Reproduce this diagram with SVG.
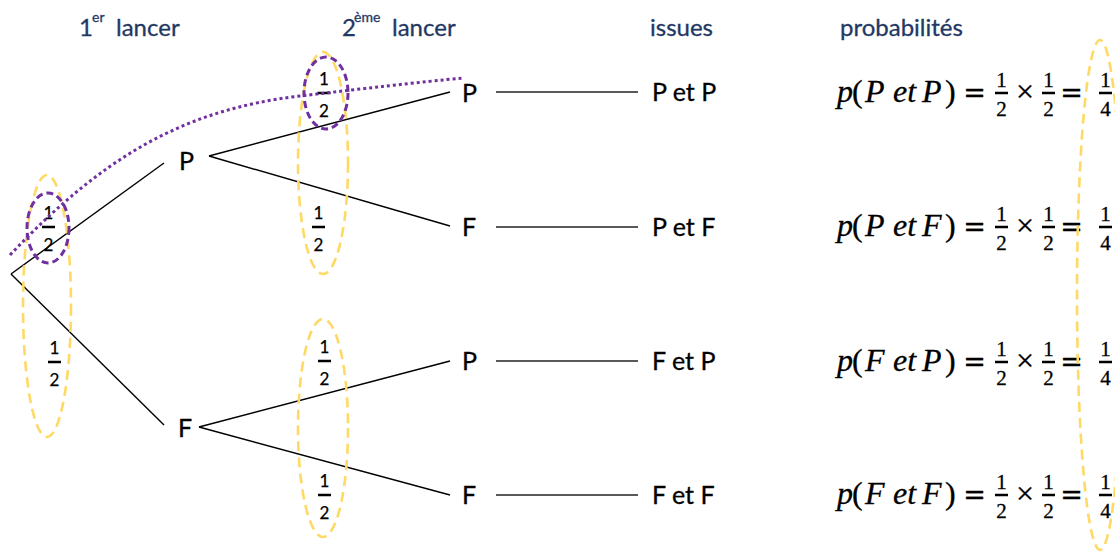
<svg xmlns="http://www.w3.org/2000/svg" width="1115" height="554" viewBox="0 0 1115 554">
<style>
.hd{font-family:Lato,"Liberation Sans",sans-serif;fill:#1F3864;stroke:#1F3864;stroke-width:0.3;font-size:24px}
.sup{font-size:14px}
.lb{font-family:Lato,"Liberation Sans",sans-serif;fill:#000;stroke:#000;stroke-width:0.3;font-size:25px}
.fd{font-family:Lato,"Liberation Sans",sans-serif;fill:#000;stroke:#000;stroke-width:0.25;font-size:17px;text-anchor:middle}
.m{font-family:"Liberation Serif",serif;fill:#000;stroke:#000;stroke-width:0.3;font-size:32px}
.mi{font-style:italic}
.op{font-family:"DejaVu Serif",serif;font-size:27px;text-anchor:middle}
.md{font-family:"Liberation Serif",serif;fill:#000;stroke:#000;stroke-width:0.3;font-size:21px;text-anchor:middle}
.ln{stroke:#000;stroke-width:1.4;fill:none}
.il{stroke:#222;stroke-width:1.4;fill:none}
.yel{fill:none;stroke:#FFD966;stroke-width:2.6;stroke-dasharray:10 6}
.pur{fill:none;stroke:#7030A0;stroke-width:3;stroke-dasharray:7 4}
.dot{fill:none;stroke:#7030A0;stroke-width:3;stroke-dasharray:3 3}
</style>
<defs>
<rect id="bar" x="-6.5" y="-1.25" width="13" height="2.5" fill="#000"/>
</defs>

<g id="headers">
<text class="hd" x="79" y="36">1</text><text class="hd sup" x="92" y="22">er</text><text class="hd" x="116" y="36">lancer</text>
<text class="hd" x="342" y="36">2</text><text class="hd sup" x="354" y="22">ème</text><text class="hd" x="392" y="36">lancer</text>
<text class="hd" x="650" y="36">issues</text>
<text class="hd" x="840" y="36">probabilités</text>
</g>

<g id="connectors">
<line class="ln" x1="11" y1="274" x2="164" y2="163"/>
<line class="ln" x1="11" y1="274" x2="164" y2="425"/>
<line class="ln" x1="209" y1="156" x2="450" y2="92"/>
<line class="ln" x1="209" y1="156" x2="450" y2="226"/>
<line class="ln" x1="199" y1="427" x2="450" y2="361"/>
<line class="ln" x1="199" y1="427" x2="450" y2="495"/>
<line class="il" x1="496" y1="92" x2="638" y2="92"/>
<line class="il" x1="496" y1="227" x2="638" y2="227"/>
<line class="il" x1="496" y1="361" x2="638" y2="361"/>
<line class="il" x1="496" y1="495" x2="638" y2="495"/>
</g>

<g id="branch-probabilities">
<text class="fd" x="48.5" y="219">1</text><use href="#bar" x="48.5" y="227"/><text class="fd" x="48.5" y="251">2</text>
<text class="fd" x="54.5" y="354">1</text><use href="#bar" x="54.5" y="362"/><text class="fd" x="54.5" y="386">2</text>
<text class="fd" x="324" y="85">1</text><use href="#bar" x="324" y="93"/><text class="fd" x="324" y="117">2</text>
<text class="fd" x="318.5" y="219">1</text><use href="#bar" x="318.5" y="227"/><text class="fd" x="318.5" y="251">2</text>
<text class="fd" x="324.5" y="353">1</text><use href="#bar" x="324.5" y="361"/><text class="fd" x="324.5" y="385">2</text>
<text class="fd" x="324.5" y="487">1</text><use href="#bar" x="324.5" y="495"/><text class="fd" x="324.5" y="519">2</text>
</g>

<g id="node-P1"><text class="lb" x="179" y="170">P</text></g>
<g id="node-F1"><text class="lb" x="178" y="437">F</text></g>
<g id="node-PP"><text class="lb" x="462" y="102">P</text></g>
<g id="node-PF"><text class="lb" x="462" y="236">F</text></g>
<g id="node-FP"><text class="lb" x="462" y="370">P</text></g>
<g id="node-FF"><text class="lb" x="462" y="504">F</text></g>

<g id="issues">
<text class="lb" x="652" y="101">P et P</text>
<text class="lb" x="652" y="236">P et F</text>
<text class="lb" x="652" y="370">F et P</text>
<text class="lb" x="652" y="504">F et F</text>
</g>

<g id="prob-PP">
<text class="m" y="102"><tspan class="mi" x="837">p</tspan><tspan x="852">(</tspan><tspan class="mi" x="865">P</tspan><tspan class="mi" x="893">et</tspan><tspan class="mi" x="922">P</tspan><tspan x="945">)</tspan></text>
<text class="m op" x="974.5" y="102">=</text><text class="m" x="1025" y="102" text-anchor="middle">×</text><text class="m op" x="1071.5" y="102">=</text>
<text class="md" x="1001.5" y="87">1</text><use href="#bar" x="1001.5" y="93"/><text class="md" x="1001.5" y="116">2</text>
<text class="md" x="1048.5" y="87">1</text><use href="#bar" x="1048.5" y="93"/><text class="md" x="1048.5" y="116">2</text>
<text class="md" x="1105.5" y="87">1</text><use href="#bar" x="1105.5" y="93"/><text class="md" x="1105.5" y="116">4</text>
</g>
<g id="prob-PF">
<text class="m" y="236"><tspan class="mi" x="837">p</tspan><tspan x="852">(</tspan><tspan class="mi" x="865">P</tspan><tspan class="mi" x="893">et</tspan><tspan class="mi" x="922">F</tspan><tspan x="945">)</tspan></text>
<text class="m op" x="974.5" y="236">=</text><text class="m" x="1025" y="236" text-anchor="middle">×</text><text class="m op" x="1071.5" y="236">=</text>
<text class="md" x="1001.5" y="221">1</text><use href="#bar" x="1001.5" y="227"/><text class="md" x="1001.5" y="250">2</text>
<text class="md" x="1048.5" y="221">1</text><use href="#bar" x="1048.5" y="227"/><text class="md" x="1048.5" y="250">2</text>
<text class="md" x="1105.5" y="221">1</text><use href="#bar" x="1105.5" y="227"/><text class="md" x="1105.5" y="250">4</text>
</g>
<g id="prob-FP">
<text class="m" y="371"><tspan class="mi" x="837">p</tspan><tspan x="852">(</tspan><tspan class="mi" x="865">F</tspan><tspan class="mi" x="893">et</tspan><tspan class="mi" x="922">P</tspan><tspan x="945">)</tspan></text>
<text class="m op" x="974.5" y="371">=</text><text class="m" x="1025" y="371" text-anchor="middle">×</text><text class="m op" x="1071.5" y="371">=</text>
<text class="md" x="1001.5" y="356">1</text><use href="#bar" x="1001.5" y="362"/><text class="md" x="1001.5" y="385">2</text>
<text class="md" x="1048.5" y="356">1</text><use href="#bar" x="1048.5" y="362"/><text class="md" x="1048.5" y="385">2</text>
<text class="md" x="1105.5" y="356">1</text><use href="#bar" x="1105.5" y="362"/><text class="md" x="1105.5" y="385">4</text>
</g>
<g id="prob-FF">
<text class="m" y="504"><tspan class="mi" x="837">p</tspan><tspan x="852">(</tspan><tspan class="mi" x="865">F</tspan><tspan class="mi" x="893">et</tspan><tspan class="mi" x="922">F</tspan><tspan x="945">)</tspan></text>
<text class="m op" x="974.5" y="504">=</text><text class="m" x="1025" y="504" text-anchor="middle">×</text><text class="m op" x="1071.5" y="504">=</text>
<text class="md" x="1001.5" y="489">1</text><use href="#bar" x="1001.5" y="495"/><text class="md" x="1001.5" y="518">2</text>
<text class="md" x="1048.5" y="489">1</text><use href="#bar" x="1048.5" y="495"/><text class="md" x="1048.5" y="518">2</text>
<text class="md" x="1105.5" y="489">1</text><use href="#bar" x="1105.5" y="495"/><text class="md" x="1105.5" y="518">4</text>
</g>

<g id="highlights">
<ellipse class="yel" cx="47" cy="306" rx="24" ry="131"/>
<ellipse class="yel" cx="323" cy="163" rx="25" ry="111"/>
<ellipse class="yel" cx="323" cy="428" rx="25" ry="109"/>
<ellipse class="yel" cx="1100" cy="295" rx="23" ry="255"/>
<ellipse class="pur" cx="48" cy="228" rx="21" ry="35"/>
<ellipse class="pur" cx="326" cy="93" rx="22" ry="36"/>
<path class="dot" d="M10,255 C100,160 180,110 300,96 C360,89 420,82 463,78"/>
</g>
</svg>
